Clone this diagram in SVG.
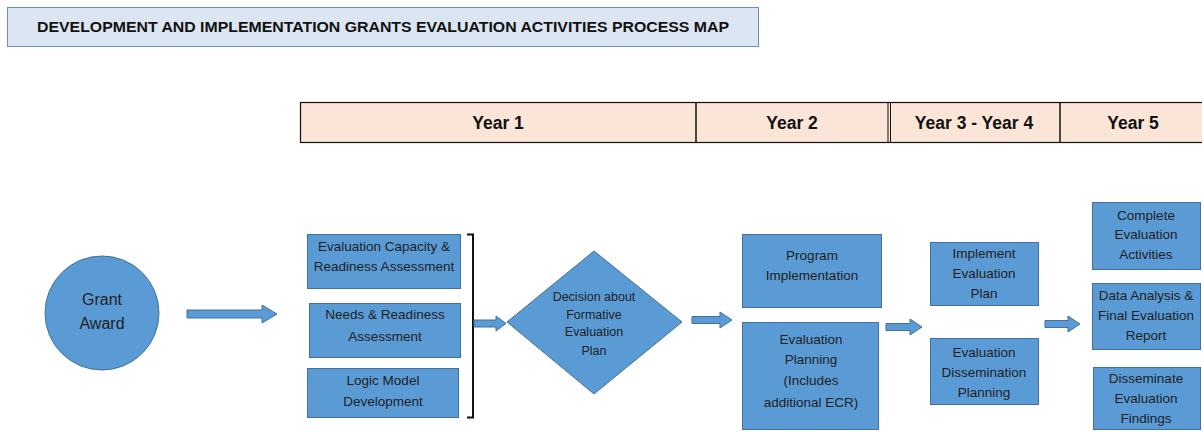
<svg xmlns="http://www.w3.org/2000/svg" width="1202" height="432" viewBox="0 0 1202 432">
<style>
.n{fill:#5b9bd5;stroke:#41719c;stroke-width:1}
.t{font-family:"Liberation Sans",Arial,sans-serif;font-size:13.5px;fill:#1e1e1e;text-anchor:middle}
.d{font-size:12.5px}
.g{font-size:16px}
.y{font-family:"Liberation Sans",Arial,sans-serif;font-size:17.5px;font-weight:bold;fill:#111;text-anchor:middle}
.a{fill:#5b9bd5;stroke:#41719c;stroke-width:1}
</style>
<rect width="1202" height="432" fill="#fff"/>
<g id="title">
<rect x="7.5" y="7.5" width="751" height="39" fill="#dce6f2" stroke="#6c8ebf" stroke-width="1"/>
<text x="383" y="32" font-family="Liberation Sans,Arial,sans-serif" font-size="14.5" font-weight="bold" fill="#111" text-anchor="middle" textLength="692" lengthAdjust="spacingAndGlyphs">DEVELOPMENT AND IMPLEMENTATION GRANTS EVALUATION ACTIVITIES PROCESS MAP</text>
</g>
<g id="years">
<rect x="300.5" y="102.5" width="905" height="40" fill="#fbe5d6" stroke="#111" stroke-width="1.2"/>
<line x1="696" y1="102" x2="696" y2="143" stroke="#111" stroke-width="1.5"/>
<line x1="888" y1="102" x2="888" y2="143" stroke="#111" stroke-width="1"/>
<line x1="890.5" y1="102" x2="890.5" y2="143" stroke="#111" stroke-width="1"/>
<line x1="1060" y1="102" x2="1060" y2="143" stroke="#111" stroke-width="1.5"/>
<text class="y" x="498" y="129">Year 1</text>
<text class="y" x="792" y="129">Year 2</text>
<text class="y" x="974" y="129">Year 3 - Year 4</text>
<text class="y" x="1133" y="129">Year 5</text>
</g>
<g id="grant">
<circle class="n" cx="102" cy="313" r="57"/>
<text class="t g" x="102" y="305">Grant</text>
<text class="t g" x="102" y="329">Award</text>
</g>
<g id="ecr">
<rect class="n" x="307.5" y="234.5" width="153" height="54"/>
<text class="t" x="384" y="251">Evaluation Capacity &amp;</text>
<text class="t" x="384" y="271">Readiness Assessment</text>
</g>
<g id="needs">
<rect class="n" x="309.5" y="303.5" width="151" height="54"/>
<text class="t" x="385" y="319">Needs &amp; Readiness</text>
<text class="t" x="385" y="341">Assessment</text>
</g>
<g id="logic">
<rect class="n" x="307.5" y="368.5" width="151" height="49"/>
<text class="t" x="383" y="385">Logic Model</text>
<text class="t" x="383" y="406">Development</text>
</g>
<g id="decision">
<polygon class="n" points="507,322 594,251 682,322 594,394"/>
<text class="t d" x="594" y="301">Decision about</text>
<text class="t d" x="594" y="319">Formative</text>
<text class="t d" x="594" y="336">Evaluation</text>
<text class="t d" x="594" y="355">Plan</text>
</g>
<g id="program">
<rect class="n" x="742.5" y="234.5" width="139" height="73"/>
<text class="t" x="812" y="260">Program</text>
<text class="t" x="812" y="280">Implementation</text>
</g>
<g id="evalplan">
<rect class="n" x="742.5" y="322.5" width="136" height="107"/>
<text class="t" x="811" y="344">Evaluation</text>
<text class="t" x="811" y="364">Planning</text>
<text class="t" x="811" y="385">(Includes</text>
<text class="t" x="811" y="407">additional ECR)</text>
</g>
<g id="implement">
<rect class="n" x="930.5" y="242.5" width="108" height="63"/>
<text class="t" x="984" y="258">Implement</text>
<text class="t" x="984" y="278">Evaluation</text>
<text class="t" x="984" y="298">Plan</text>
</g>
<g id="dissplan">
<rect class="n" x="930.5" y="338.5" width="108" height="66"/>
<text class="t" x="984" y="357">Evaluation</text>
<text class="t" x="984" y="377">Dissemination</text>
<text class="t" x="984" y="397">Planning</text>
</g>
<g id="complete">
<rect class="n" x="1092.5" y="202.5" width="108" height="67"/>
<text class="t" x="1146" y="220">Complete</text>
<text class="t" x="1146" y="239">Evaluation</text>
<text class="t" x="1146" y="259">Activities</text>
</g>
<g id="analysis">
<rect class="n" x="1092.5" y="283.5" width="108" height="66"/>
<text class="t" x="1146" y="300">Data Analysis &amp;</text>
<text class="t" x="1146" y="320">Final Evaluation</text>
<text class="t" x="1146" y="340">Report</text>
</g>
<g id="disseminate">
<rect class="n" x="1093.5" y="367.5" width="107" height="62"/>
<text class="t" x="1146" y="383">Disseminate</text>
<text class="t" x="1146" y="403">Evaluation</text>
<text class="t" x="1146" y="423">Findings</text>
</g>
<g id="connectors">
<path d="M467,234.5 H473 V417.5 H467" fill="none" stroke="#111" stroke-width="2"/>
<polygon class="a" points="187,310 262,310 262,305 277,314 262,323 262,318 187,318"/>
<polygon class="a" points="474,320 496,320 496,316 506,323.5 496,331 496,327 474,327"/>
<polygon class="a" points="692,316.5 720,316.5 720,312 732,320 720,328 720,323.5 692,323.5"/>
<polygon class="a" points="886,323.5 910,323.5 910,319 922,327 910,335 910,330.5 886,330.5"/>
<polygon class="a" points="1045,320.5 1068,320.5 1068,316 1080,324 1068,332 1068,327.5 1045,327.5"/>
</g>
</svg>
